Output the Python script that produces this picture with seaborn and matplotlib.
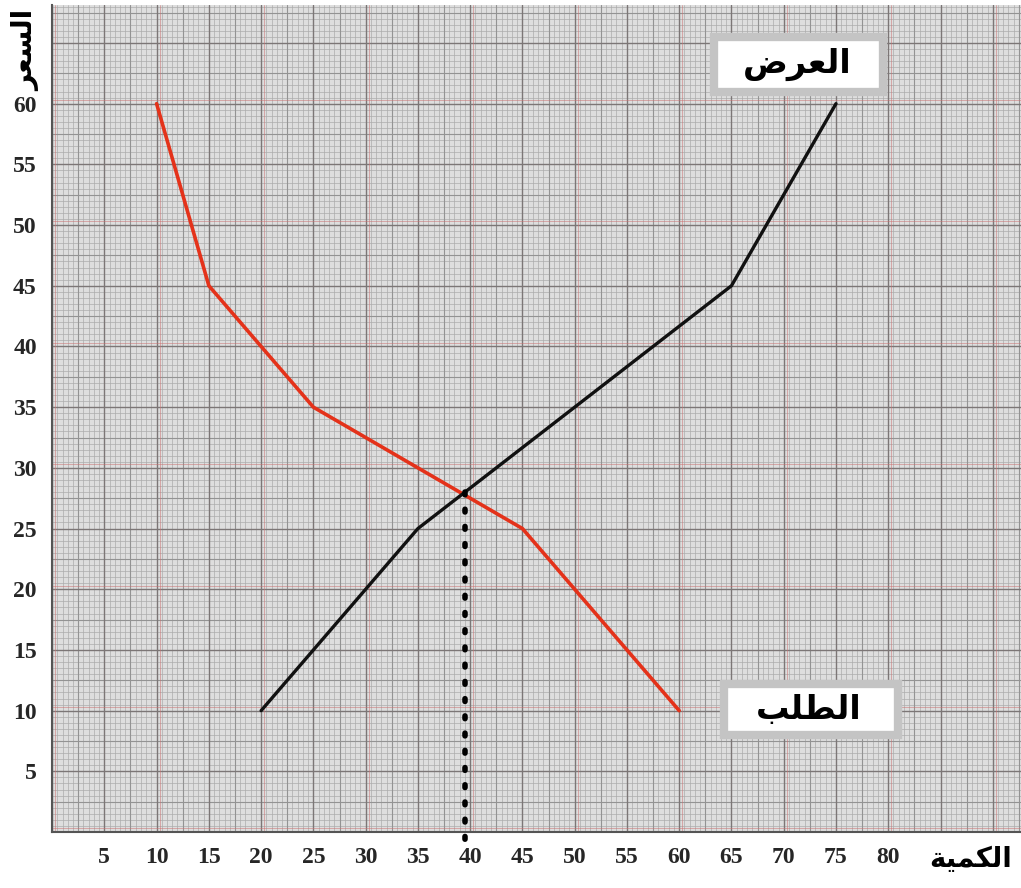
import numpy as np
import matplotlib
matplotlib.use("Agg")
import matplotlib.pyplot as plt
from matplotlib.patches import Rectangle
import seaborn as sns

# data
demand_q = [10, 15, 25, 45, 60]
demand_p = [60, 45, 35, 25, 10]
supply_q = [20, 35, 65, 75]
supply_p = [10, 25, 45, 60]
eq_q, eq_p = 39.5, 28
x_ticks = list(range(5, 85, 5))
y_ticks = list(range(5, 65, 5))

# arabic labels (presentation forms, visual order)
lbl_supply = "\uFEBD\uFEAE\uFECC\uFEDF\uFE8D"      # العرض
lbl_demand = "\uFE90\uFEE0\uFEC4\uFEDF\uFE8D"      # الطلب
lbl_price = "\uFEAE\uFECC\uFEB4\uFEDF\uFE8D"       # السعر
lbl_qty = "\uFE94\uFEF4\uFEE4\uFEDC\uFEDF\uFE8D"   # الكمية


def main():
    sns.set_style("white")
    plt.rcParams['font.family'] = ['DejaVu Sans']

    fig = plt.figure(figsize=(10.21, 8.88), dpi=100)
    ax = fig.add_axes([0.051, 0.063, 0.949, 0.931])
    xmax, ymax = 92.7, 68.1
    ax.set_xlim(0, xmax)
    ax.set_ylim(0, ymax)
    ax.set_facecolor("#dedede")

    # graph paper grid
    for v in np.arange(0, xmax, 0.5):
        ax.axvline(v, color="#acacac", lw=0.5, zorder=0)
    for v in np.arange(0, ymax, 0.5):
        ax.axhline(v, color="#acacac", lw=0.5, zorder=0)
    for v in np.arange(2.5, xmax, 5):
        ax.axvline(v, color="#939393", lw=0.8, zorder=0)
    for v in np.arange(2.5, ymax, 5):
        ax.axhline(v, color="#939393", lw=0.8, zorder=0)
    for v in np.arange(0, xmax, 5):
        ax.axvline(v, color="#7c7676", lw=1.0, zorder=0)
    for v in np.arange(0, ymax, 5):
        ax.axhline(v, color="#7c7676", lw=1.0, zorder=0)
    for v in np.arange(0, xmax, 10):
        ax.axvline(v + 0.3, color="#cc7070", lw=0.6, alpha=0.6, zorder=0)
    for v in np.arange(0, ymax, 10):
        ax.axhline(v + 0.3, color="#cc7070", lw=0.6, alpha=0.6, zorder=0)

    # curves
    sns.lineplot(x=demand_q, y=demand_p, sort=False, color="#e4321a", lw=2.6,
                 ax=ax, zorder=3, solid_capstyle="round", solid_joinstyle="round")
    sns.lineplot(x=supply_q, y=supply_p, sort=False, color="#111111", lw=2.4,
                 ax=ax, zorder=3, solid_capstyle="round", solid_joinstyle="round")

    # equilibrium quantity dotted line
    ax.plot([eq_q, eq_q], [eq_p, -0.7], color="black", lw=4,
            linestyle=(0, (0.5, 2.6)), dash_capstyle="round", zorder=4,
            clip_on=False)

    # label boxes
    ax.add_patch(Rectangle((63.3, 61.0), 16.2, 4.5, fc="white", ec="#c4c4c4",
                           lw=6, zorder=5))
    ax.text(71.3, 63.2, lbl_supply, ha="center", va="center", fontsize=24,
            fontweight="bold", color="black", zorder=6)
    ax.add_patch(Rectangle((64.3, 8.0), 16.6, 4.2, fc="white", ec="#c4c4c4",
                           lw=6, zorder=5))
    ax.text(72.4, 10.1, lbl_demand, ha="center", va="center", fontsize=24,
            fontweight="bold", color="black", zorder=6)

    # axes
    for s in ["top", "right"]:
        ax.spines[s].set_visible(False)
    for s in ["left", "bottom"]:
        ax.spines[s].set_color("#555555")
        ax.spines[s].set_linewidth(1.5)
        ax.spines[s].set_zorder(2)

    ax.set_xticks(x_ticks)
    ax.set_xticklabels([str(t) for t in x_ticks])
    ax.set_yticks(y_ticks)
    ax.set_yticklabels([str(t) for t in y_ticks])
    ax.tick_params(axis="x", length=6, width=2, color="#333333", pad=5)
    ax.tick_params(axis="y", length=8, width=1.5, color="#555555", pad=3)
    for lab in ax.get_xticklabels() + ax.get_yticklabels():
        lab.set_fontfamily("Liberation Serif")
        lab.set_fontweight("bold")
        lab.set_fontsize(17)

    fig.text(0.026, 0.943, lbl_price, rotation=90, ha="center", va="center",
             fontsize=20, fontweight="bold", color="black")
    fig.text(0.951, 0.033, lbl_qty, ha="center", va="center",
             fontsize=20, fontweight="bold", color="black")

    fig.savefig("out.png", dpi=100)


if __name__ == "__main__":
    main()
